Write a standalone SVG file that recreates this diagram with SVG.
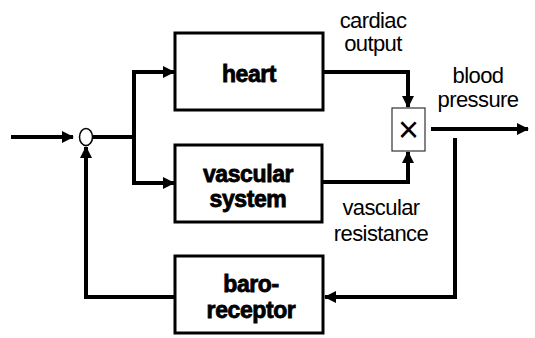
<svg xmlns="http://www.w3.org/2000/svg" width="535" height="338" viewBox="0 0 535 338">
<style>
.box{fill:#fff;stroke:#000;stroke-width:3}
.ln{fill:none;stroke:#000;stroke-width:4}
.bt{font-family:"Liberation Sans",Arial,sans-serif;font-weight:bold;font-size:23px;text-anchor:middle;fill:#000;stroke:#000;stroke-width:0.8px;letter-spacing:-0.4px}
.lt{font-family:"Liberation Sans",Arial,sans-serif;font-size:22px;text-anchor:middle;fill:#000;letter-spacing:-0.6px}
</style>
<defs>
<marker id="ah" markerWidth="12" markerHeight="12" refX="11" refY="6" orient="auto" markerUnits="userSpaceOnUse" viewBox="0 0 12 12">
<path d="M0,0 L12,6 L0,12 Z" fill="#000"/>
</marker>
</defs>
<rect width="535" height="338" fill="#fff"/>
<g id="connectors">
<line class="ln" x1="11" y1="137" x2="73" y2="137" marker-end="url(#ah)"/>
<line class="ln" x1="93" y1="137" x2="134" y2="137"/>
<polyline class="ln" points="174,72 134,72 134,183 174,183" marker-end="url(#ah)"/>
<line class="ln" x1="134" y1="72" x2="174" y2="72" marker-end="url(#ah)"/>
<polyline class="ln" points="323,72 408,72 408,107" marker-end="url(#ah)"/>
<polyline class="ln" points="322,182 408,182 408,152" marker-end="url(#ah)"/>
<line class="ln" x1="431" y1="129" x2="528" y2="129" marker-end="url(#ah)"/>
<polyline class="ln" points="455,138 455,297 325,297" marker-end="url(#ah)"/>
<polyline class="ln" points="175,297 86,297 86,147" marker-end="url(#ah)"/>
</g>
<g id="sum">
<ellipse cx="86" cy="137" rx="6.5" ry="8.5" fill="#fff" stroke="#000" stroke-width="1.5"/>
</g>
<g id="heart">
<rect class="box" x="175" y="33" width="148" height="77"/>
<text class="bt" x="249" y="82">heart</text>
</g>
<g id="vascular">
<rect class="box" x="175" y="145" width="147" height="77"/>
<text class="bt" x="248" y="182">vascular</text>
<text class="bt" x="248" y="207">system</text>
</g>
<g id="baroreceptor">
<rect class="box" x="175" y="256" width="148" height="77"/>
<text class="bt" x="251" y="292">baro-</text>
<text class="bt" x="251" y="318">receptor</text>
</g>
<g id="multiplier">
<rect x="392" y="108" width="33" height="43" fill="#fff" stroke="#333" stroke-width="1.2"/>
<text x="408.5" y="142" font-family="'Liberation Sans',Arial,sans-serif" font-size="36" text-anchor="middle">×</text>
</g>
<g id="labels">
<text class="lt" x="373" y="28">cardiac</text>
<text class="lt" x="373" y="51">output</text>
<text class="lt" x="478" y="83">blood</text>
<text class="lt" x="478" y="107">pressure</text>
<text class="lt" x="381" y="215">vascular</text>
<text class="lt" x="381" y="241">resistance</text>
</g>
</svg>
